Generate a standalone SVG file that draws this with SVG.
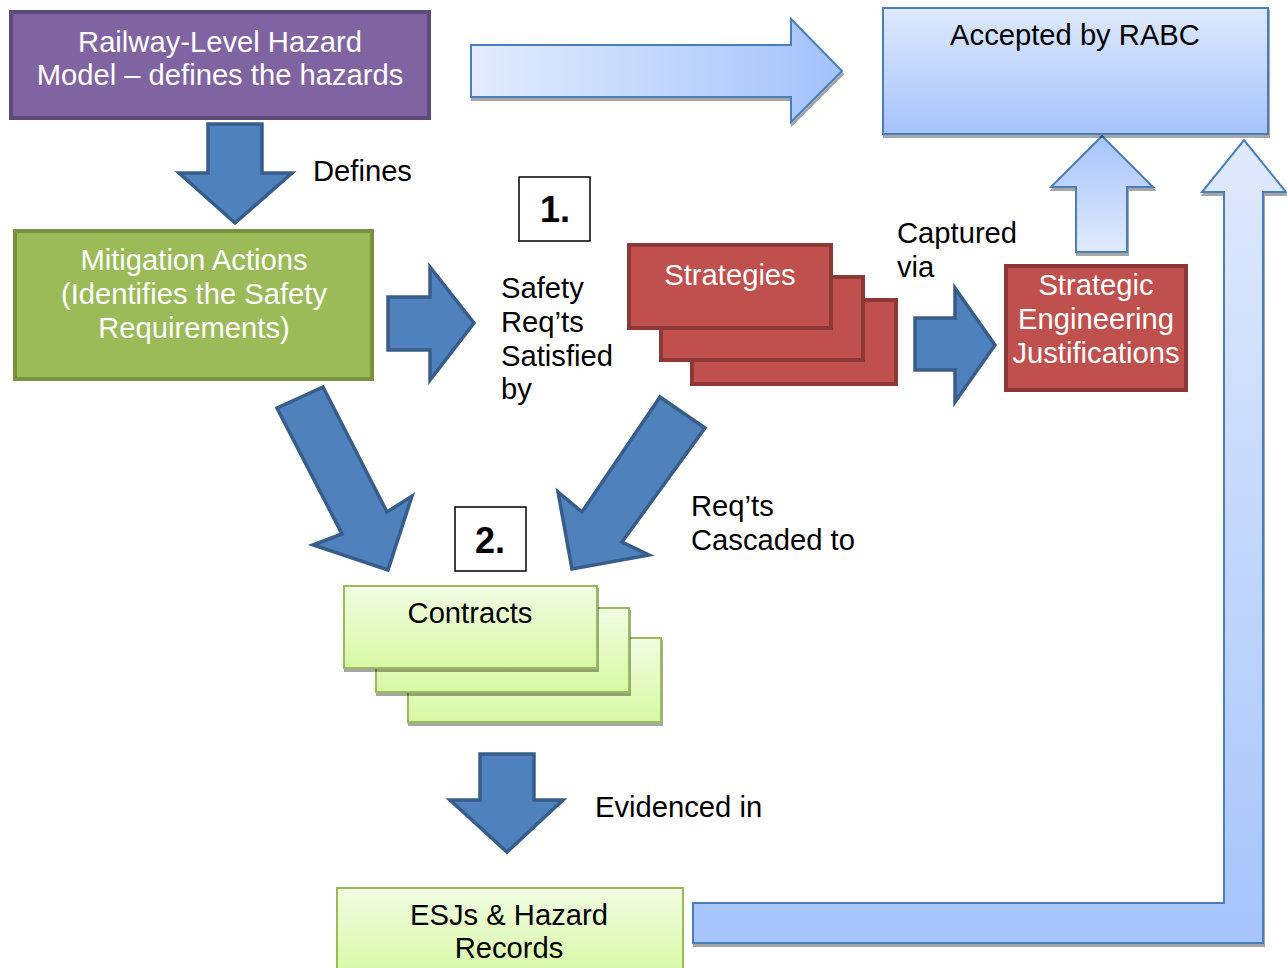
<svg xmlns="http://www.w3.org/2000/svg" width="1287" height="968" viewBox="0 0 1287 968">
<defs>
<linearGradient id="gH" x1="0" y1="0" x2="1" y2="0"><stop offset="0" stop-color="#e2ecfd"/><stop offset="1" stop-color="#a3c2fb"/></linearGradient>
<linearGradient id="gBox" x1="0" y1="0" x2="0" y2="1"><stop offset="0" stop-color="#dee9fd"/><stop offset="1" stop-color="#a5c3fb"/></linearGradient>
<linearGradient id="gUp" x1="0" y1="0" x2="0" y2="1"><stop offset="0" stop-color="#a7c4fb"/><stop offset="1" stop-color="#e0eafd"/></linearGradient>
<linearGradient id="gL" gradientUnits="userSpaceOnUse" x1="0" y1="140" x2="0" y2="943"><stop offset="0" stop-color="#e0eafd"/><stop offset="1" stop-color="#a6c4fb"/></linearGradient>
<linearGradient id="gG" x1="0" y1="0" x2="0" y2="1"><stop offset="0" stop-color="#f1fce3"/><stop offset="1" stop-color="#d7f9a4"/></linearGradient>
<filter id="sh" x="-5%" y="-5%" width="110%" height="115%"><feDropShadow dx="1" dy="3" stdDeviation="0.6" flood-color="#000" flood-opacity="0.35"/></filter>
</defs>
<style>
text{font-family:"Liberation Sans",Arial,sans-serif;font-size:29.2px}
.w{fill:#fff}
.k{fill:#000}
.c{text-anchor:middle}
.b{font-weight:bold;font-size:36px}
.dark{fill:#4f81bd;stroke:#385d8a;stroke-width:3.5;stroke-linejoin:miter}
.lt{stroke:#4a7ebb;stroke-width:2;stroke-linejoin:miter}
.red{fill:#c0504d;stroke:#8c3836;stroke-width:4}
.grn{fill:url(#gG);stroke:#9bbb59;stroke-width:2}
.num{fill:#fff;stroke:#000;stroke-width:1.5}
</style>

<g id="connectors">
<path id="a-top" class="lt" fill="url(#gH)" filter="url(#sh)" d="M471,45 H791 V19 L842,71 L791,122 V97 H471 Z"/>
<path id="a-defines" class="dark" d="M208,124 H262 V173 H292 L235,223 L179,173 H208 Z"/>
<path id="a-sat" class="dark" d="M388,297 H430 V267 L474,323 L430,380 V350 H388 Z"/>
<path id="a-cap" class="dark" d="M915,318 H955 V288 L995,345 L955,402 V370 H915 Z"/>
<path id="a-up" class="lt" fill="url(#gUp)" filter="url(#sh)" d="M1076,252 V187 H1051 L1102,136 L1153,187 H1127 V252 Z"/>
<path id="a-L" class="lt" fill="url(#gL)" filter="url(#sh)" d="M693,903 H1224 V192 H1202 L1244,140 L1286,192 H1263 V943 H693 Z"/>
<path id="a-diagL" class="dark" d="M277,408 L323,387 L387,512 L412,496 L388,570 L313,545 L342,534 Z"/>
<path id="a-diagR" class="dark" d="M660,397 L705,428 L622,542 L649,555 L572,569 L558,492 L582,512 Z"/>
<path id="a-evid" class="dark" d="M480,754 H534 V800 H563 L507,852 L450,800 H480 Z"/>
</g>

<g id="n-hazard">
<rect x="11" y="12" width="418" height="106" fill="#8064a2" stroke="#5f4a7b" stroke-width="4"/>
<text class="w c" x="220" y="52">Railway-Level Hazard</text>
<text class="w c" x="220" y="85">Model – defines the hazards</text>
</g>

<g id="n-rabc">
<rect x="883" y="8" width="385" height="126" fill="url(#gBox)" stroke="#4a7ebb" stroke-width="2" filter="url(#sh)"/>
<text class="k c" x="1075" y="45">Accepted by RABC</text>
</g>

<g id="n-mitigation">
<rect x="15" y="231" width="357" height="148" fill="#9bbb59" stroke="#77933c" stroke-width="4"/>
<text class="w c" x="194" y="270">Mitigation Actions</text>
<text class="w c" x="194" y="304">(Identifies the Safety</text>
<text class="w c" x="194" y="338">Requirements)</text>
</g>

<g id="n-one">
<rect class="num" x="519" y="177" width="71" height="64"/>
<text class="k c b" x="555" y="222">1.</text>
</g>

<g id="n-strategies">
<rect class="red" x="692" y="300" width="204" height="84"/>
<rect class="red" x="661" y="277" width="202" height="83"/>
<rect class="red" x="629" y="245" width="202" height="83"/>
<text class="w c" x="730" y="285">Strategies</text>
</g>

<g id="n-sej">
<rect class="red" x="1006" y="266" width="180" height="124"/>
<text class="w c" x="1096" y="295">Strategic</text>
<text class="w c" x="1096" y="329">Engineering</text>
<text class="w c" x="1096" y="363">Justifications</text>
</g>

<g id="n-two">
<rect class="num" x="455" y="507" width="71" height="64"/>
<text class="k c b" x="490" y="553">2.</text>
</g>

<g id="n-contracts">
<rect class="grn" x="408" y="638" width="253" height="84" filter="url(#sh)"/>
<rect class="grn" x="376" y="608" width="253" height="84" filter="url(#sh)"/>
<rect class="grn" x="344" y="586" width="253" height="82" filter="url(#sh)"/>
<text class="k c" x="470" y="623">Contracts</text>
</g>

<g id="n-esj">
<rect class="grn" x="337" y="888" width="346" height="90"/>
<text class="k c" x="509" y="925">ESJs &amp; Hazard</text>
<text class="k c" x="509" y="958">Records</text>
</g>

<g id="labels">
<text class="k" x="313" y="181">Defines</text>
<text class="k" x="501" y="298">Safety</text>
<text class="k" x="501" y="332">Req’ts</text>
<text class="k" x="501" y="366">Satisfied</text>
<text class="k" x="501" y="399">by</text>
<text class="k" x="897" y="243">Captured</text>
<text class="k" x="897" y="277">via</text>
<text class="k" x="691" y="516">Req’ts</text>
<text class="k" x="691" y="550">Cascaded to</text>
<text class="k" x="595" y="817">Evidenced in</text>
</g>
</svg>
